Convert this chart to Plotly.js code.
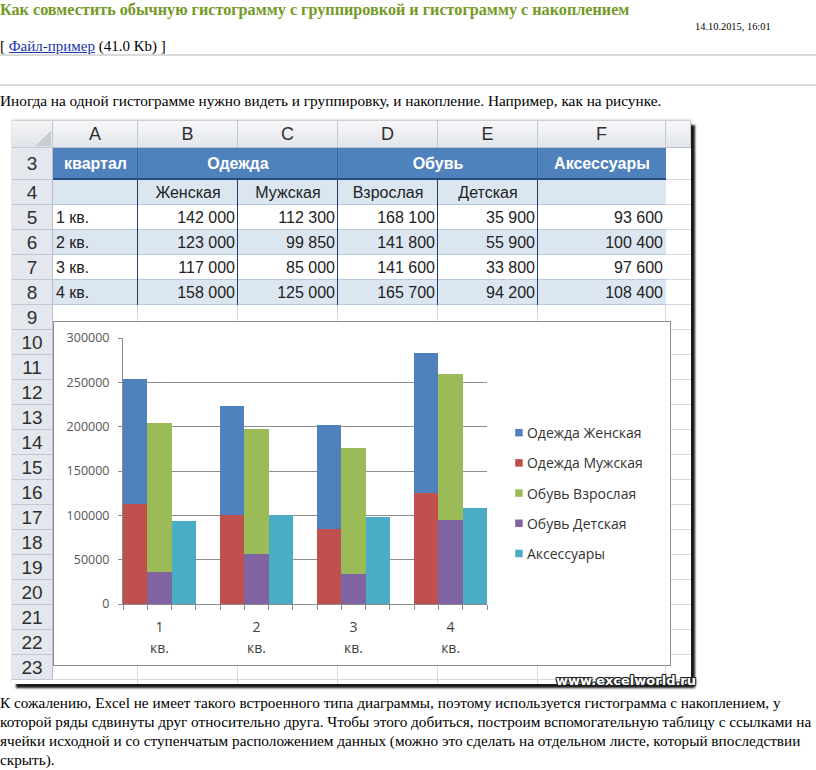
<!DOCTYPE html>
<html><head><meta charset="utf-8">
<script src="https://cdn.plot.ly/plotly-3.0.1.min.js"></script>
<style>
body{margin:0;width:816px;height:770px;overflow:hidden;background:#fff;font-family:"Liberation Serif","Times New Roman",serif;color:#000;position:relative}
.t{position:absolute;white-space:nowrap}
#title{left:0;top:1px;font-weight:bold;font-size:16.2px;color:#739a27}
#date{left:695px;top:21px;font-size:10.4px}
#file{left:0;top:38px;font-size:15px}
#file a{color:#1a35a8;text-decoration:underline}
.hr{position:absolute;left:0;width:816px;height:0;border-top:2px solid #d9d9d9}
#p1{left:0;top:92px;font-size:15.3px}
#p2{left:0;top:693px;font-size:15.25px;line-height:19px}
.b{position:absolute;box-sizing:border-box}
.cell{position:absolute;box-sizing:border-box;font-family:"Liberation Sans",Arial,sans-serif;white-space:nowrap;overflow:hidden}
#chart{position:absolute;left:53px;top:321px;width:618px;height:345px;background:#fff}
#chartBorder{position:absolute;left:53px;top:321px;width:618px;height:345px;box-sizing:border-box;border:1px solid #8e8e8e;pointer-events:none}
.legendtext{transform:translateX(-12px)}
#wm{position:absolute;left:556px;top:673px;font-family:"DejaVu Sans",sans-serif;font-weight:bold;font-size:13px;color:#fff;
 text-shadow:-1px -1px 0 #222,1px -1px 0 #222,-1px 1px 0 #222,1px 1px 0 #222,0 0 2px #000;white-space:nowrap}
</style></head>
<body>
<div id="title" class="t">Как совместить обычную гистограмму с группировкой и гистограмму с накоплением</div>
<div id="date" class="t">14.10.2015, 16:01</div>
<div id="file" class="t">[ <a href="#">Файл-пример</a> (41.0 Kb) ]</div>
<div class="hr" style="top:54px"></div>
<div class="hr" style="top:84px"></div>
<div id="p1" class="t">Иногда на одной гистограмме нужно видеть и группировку, и накопление. Например, как на рисунке.</div>
<div id="sheetLayer"></div>
<div id="chart"></div>
<div id="chartBorder"></div>
<div id="wm">www.excelworld.ru</div>
<div id="p2" class="t">К сожалению, Excel не имеет такого встроенного типа диаграммы, поэтому используется гистограмма с накоплением, у<br>которой ряды сдвинуты друг относительно друга. Чтобы этого добиться, построим вспомогательную таблицу с ссылками на<br>ячейки исходной и со ступенчатым расположением данных (можно это сделать на отдельном листе, который впоследствии<br>скрыть).</div>
<script>
// ---- data ----
const quarters = ['1 кв.', '2 кв.', '3 кв.', '4 кв.'];
const groupNames = ['Одежда', 'Обувь', 'Аксессуары'];
const subNames = ['Женская', 'Мужская', 'Взрослая', 'Детская'];
const clothesWomen = [142000, 123000, 117000, 158000];
const clothesMen = [112300, 99850, 85000, 125000];
const shoesAdult = [168100, 141800, 141600, 165700];
const shoesKids = [35900, 55900, 33800, 94200];
const accessories = [93600, 100400, 97600, 108400];
const colLetters = ['A', 'B', 'C', 'D', 'E', 'F', ''];

// ---- spreadsheet picture ----
const L = document.getElementById('sheetLayer');
function el(cls, x1, y1, x2, y2, css, html) {
  const d = document.createElement('div');
  d.className = cls;
  d.style.cssText = `left:${x1}px;top:${y1}px;width:${x2 - x1}px;height:${y2 - y1}px;` + (css || '');
  if (html !== undefined) d.innerHTML = html;
  L.appendChild(d);
  return d;
}
const colX = [53, 138, 238, 338, 438, 538, 666, 691];
const rowTop = r => r === 3 ? 148 : 180 + (r - 4) * 25;
const rowBot = r => r === 3 ? 180 : 205 + (r - 4) * 25;
const SX0 = 12, SY0 = 121, SX1 = 691, SY1 = 684;
el('b', SX0, SY0, SX1, SY1, 'background:#fff;box-shadow:4px 4px 2px #1a1a1a,0 -1px 2px #bbb;');
for (let i = 1; i < colX.length - 1; i++) el('b', colX[i] - 1, 148, colX[i], SY1, 'background:#d5dae2;');
for (let r = 3; r <= 23; r++) el('b', 53, rowBot(r) - 1, SX1, rowBot(r), 'background:#d5dae2;');
el('b', SX0, SY0, 53, 148, 'background:linear-gradient(#f4f5f7,#e0e3e8);border-right:1px solid #c3c8d0;border-bottom:1px solid #c3c8d0;');
el('b', 36, 130, 51, 146, 'background:linear-gradient(135deg,transparent 50%,#c9ccd1 50%);');
for (let i = 0; i < colX.length - 1; i++) {
  el('cell', colX[i], SY0, colX[i + 1], 148,
    'background:linear-gradient(#f7f8fa,#e2e5ea);border-right:1px solid #c3c8d0;border-bottom:1px solid #b9bfc8;text-align:center;line-height:27px;font-size:18px;color:#2f2f2f;',
    colLetters[i]);
}
for (let r = 3; r <= 23; r++) {
  const top = rowTop(r), bot = Math.min(rowBot(r), SY1);
  el('cell', SX0, top, 53, bot,
    `background:#e4e8ee;border-bottom:1px solid #c3c8d0;border-right:1px solid #b9bfc8;text-align:center;line-height:${rowBot(r) - top}px;font-size:19px;color:#2f2f2f;`,
    String(r));
}
el('b', 53, 148, 666, 180, 'background:#4f81bd;border-bottom:2px solid #244d80;');
const hdrCss = 'color:#fff;font-weight:bold;font-size:16px;text-align:center;line-height:31px;';
el('cell', 53, 148, 138, 180, hdrCss, 'квартал');
el('cell', 138, 148, 338, 180, hdrCss, groupNames[0]);
el('cell', 338, 148, 538, 180, hdrCss, groupNames[1]);
el('cell', 538, 148, 666, 180, hdrCss, groupNames[2]);
[138, 338, 538].forEach(x => el('b', x - 1, 148, x, 179, 'background:#3a679e;'));
el('b', 53, 180, 666, 205, 'background:#dce6f1;border-bottom:1px solid #b8c9df;');
subNames.forEach((s, i) => el('cell', colX[i + 1], 180, colX[i + 2], 205, 'font-size:16px;color:#222;text-align:center;line-height:25px;', s));
const fmt = v => String(v).replace(/\B(?=(\d{3})+(?!\d))/g, ' ');
const cols = [clothesWomen, clothesMen, shoesAdult, shoesKids, accessories];
quarters.forEach((q, i) => {
  const r = 5 + i, top = rowTop(r), bot = rowBot(r);
  el('b', 53, top, 666, bot, `background:${i % 2 ? '#dce6f1' : '#fff'};border-bottom:1px solid #b8c9df;`);
  el('cell', 53, top, 138, bot, 'font-size:16px;color:#222;padding-left:3px;line-height:25px;', q);
  cols.forEach((c, k) => el('cell', colX[k + 1], top, colX[k + 2], bot,
    'font-size:16px;color:#222;text-align:right;padding-right:3px;line-height:25px;', fmt(c[i])));
});
[138, 238, 338, 438, 538].forEach(x => el('b', x - 1, 180, x, 305, 'background:#1f3c6b;'));

// ---- chart ----
const xPos = k => quarters.map((_, i) => i * 4 + k);
const fontF = '"Open Sans", "Noto Sans", sans-serif';
const series = [
  { name: 'Одежда Женская', k: 0, y: clothesWomen, color: '#4F81BD', stackOrder: 1 },
  { name: 'Одежда Мужская', k: 0, y: clothesMen, color: '#C0504D', stackOrder: 0 },
  { name: 'Обувь Взрослая', k: 1, y: shoesAdult, color: '#9BBB59', stackOrder: 1 },
  { name: 'Обувь Детская', k: 1, y: shoesKids, color: '#8064A2', stackOrder: 0 },
  { name: 'Аксессуары', k: 2, y: accessories, color: '#4BACC6', stackOrder: 0 }
];
const barTraces = series.slice().sort((a, b) => a.stackOrder - b.stackOrder).map(s => ({
  type: 'bar', name: s.name, x: xPos(s.k), y: s.y, width: 1,
  marker: { color: s.color, line: { width: 0 } }, showlegend: false, hoverinfo: 'skip'
}));
const legendTraces = series.map(s => ({
  type: 'scatter', mode: 'markers', name: s.name, x: [null], y: [null],
  marker: { symbol: 'square', size: 7.5, color: s.color, line: { width: 0 } },
  legendgroup: s.name, hoverinfo: 'skip'
}));
const traces = barTraces.concat(legendTraces, [
  { type: 'scatter', mode: 'none', x: [], y: [], xaxis: 'x2', yaxis: 'y', showlegend: false, hoverinfo: 'skip' }
]);
const tickPos = xPos(1);
const layout = {
  width: 618, height: 345,
  margin: { l: 70, r: 183, t: 17, b: 62, pad: 0 },
  paper_bgcolor: 'rgba(0,0,0,0)', plot_bgcolor: '#fff',
  barmode: 'stack', bargap: 0,
  font: { family: fontF, color: '#404040' },
  showlegend: true,
  legend: { x: 1.03, xanchor: 'left', y: 0.417, yanchor: 'middle', traceorder: 'grouped', tracegroupgap: 9,
    font: { family: fontF, size: 14, color: '#333' }, bgcolor: 'rgba(0,0,0,0)' },
  xaxis: {
    range: [-0.5, 14.5], tickmode: 'array', tickvals: tickPos, ticktext: quarters.map(q => q.split(' ')[0]),
    ticks: '', showgrid: false, zeroline: false, showline: true, linecolor: '#8a8a8a', linewidth: 1,
    tickfont: { family: fontF, size: 14, color: '#404040' }, ticklabelstandoff: 10,
    minor: { tickmode: 'linear', tick0: -0.5, dtick: 1, ticks: 'outside', ticklen: 5, tickcolor: '#8a8a8a', tickwidth: 1, showgrid: false },
    fixedrange: true
  },
  xaxis2: {
    overlaying: 'x', anchor: 'y', side: 'bottom',
    range: [-0.5, 14.5], tickmode: 'array', tickvals: tickPos, ticktext: quarters.map(q => q.split(' ')[1]),
    ticks: '', showgrid: false, zeroline: false, showline: false,
    tickfont: { family: fontF, size: 14, color: '#404040' }, ticklabelstandoff: 34, fixedrange: true
  },
  yaxis: {
    range: [0, 300000], tick0: 0, dtick: 50000, tickformat: 'd',
    showgrid: true, gridcolor: '#8c8c8c', gridwidth: 1, zeroline: false,
    showline: true, linecolor: '#8a8a8a', ticks: 'outside', ticklen: 4, tickcolor: '#8a8a8a',
    tickfont: { family: fontF, size: 12.5, color: '#555' }, ticklabelstandoff: 6, fixedrange: true
  }
};
Plotly.newPlot('chart', traces, layout, { staticPlot: true, displayModeBar: false });
</script>
</body></html>
